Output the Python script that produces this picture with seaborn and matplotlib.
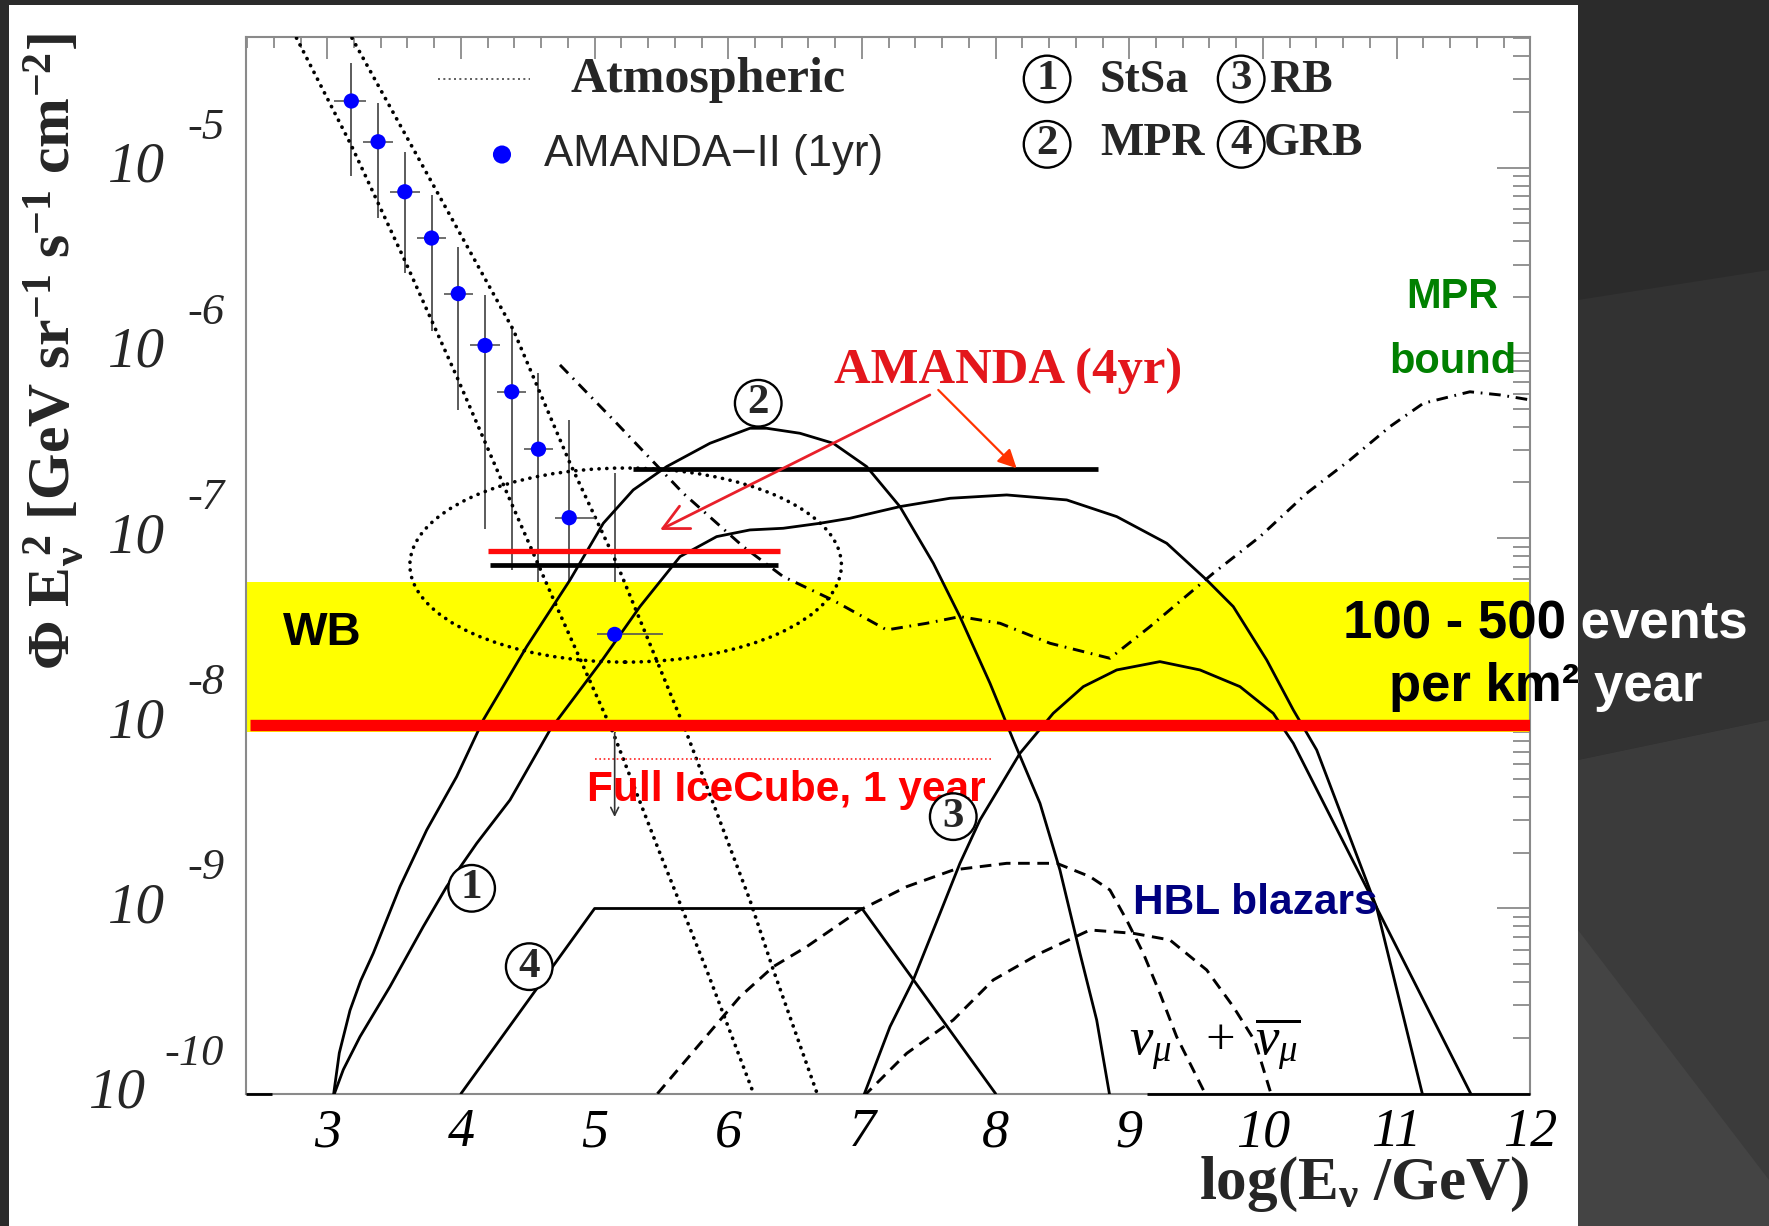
import numpy as np
import matplotlib
matplotlib.use("Agg")
import matplotlib.pyplot as plt
import matplotlib.transforms as mtransforms
from matplotlib.patches import Rectangle, Ellipse, Polygon
from matplotlib.ticker import FixedLocator, MultipleLocator, LogLocator, NullFormatter
import seaborn as sns

# x = log10(E/GeV), ly = log10(E^2 Phi [GeV sr-1 s-1 cm-2])
amanda_x = [3.18, 3.38, 3.58, 3.78, 3.98, 4.18, 4.38, 4.58, 4.81, 5.15]
amanda_ly = [-4.64, -4.86, -5.13, -5.38, -5.68, -5.96, -6.21, -6.52, -6.89, -7.52]
amanda_ly_hi = [-4.435, -4.652, -4.917, -5.148, -5.427, -5.686, -5.871, -6.108, -6.363, -6.65]
amanda_ly_lo = [-5.045, -5.272, -5.566, -5.882, -6.306, -6.952, -7.172, -7.6, -7.6, -8.05]
amanda_x_lo = [3.05, 3.27, 3.47, 3.67, 3.87, 4.07, 4.27, 4.47, 4.70, 5.02]
amanda_x_hi = [3.29, 3.49, 3.69, 3.89, 4.09, 4.29, 4.49, 4.69, 5.00, 5.51]
limit_arrow = (5.15, -8.053, -8.506)

atm_lo_x = [2.77, 3.18, 3.578, 3.976, 4.359, 4.716, 5.14, 5.489, 5.838, 6.185]
atm_lo_ly = [-4.30, -4.88, -5.498, -6.14, -6.781, -7.37, -8.054, -8.702, -9.332, -9.991]
atm_hi_x = [3.185, 4.392, 4.816, 5.165, 5.689, 6.162, 6.337, 6.673]
atm_hi_ly = [-4.30, -5.876, -6.596, -7.136, -8.054, -8.955, -9.332, -10.016]

mprb_x = [4.741, 5.165, 5.663, 6.112, 6.411, 6.785, 7.185, 7.484, 7.733, 8.033, 8.407,
          8.855, 9.155, 9.628, 9.978, 10.327, 10.651, 10.95, 11.2, 11.548, 11.773, 12.0]
mprb_ly = [-6.065, -6.38, -6.758, -7.046, -7.208, -7.336, -7.496, -7.46, -7.424, -7.46, -7.568,
           -7.649, -7.478, -7.19, -6.992, -6.758, -6.578, -6.398, -6.272, -6.21, -6.227, -6.254]

mpr_x = [3.045, 3.09, 3.17, 3.25, 3.344, 3.544, 3.744, 3.968, 4.167, 4.492, 4.816, 5.065,
         5.289, 5.539, 5.863, 6.162, 6.287, 6.536, 6.785, 7.035, 7.284, 7.534, 7.733, 7.958,
         8.132, 8.332, 8.481, 8.631, 8.756, 8.855]
mpr_ly = [-10.016, -9.78, -9.55, -9.39, -9.242, -8.882, -8.576, -8.288, -7.982, -7.586, -7.226,
          -6.92, -6.74, -6.614, -6.488, -6.407, -6.407, -6.434, -6.488, -6.614, -6.83, -7.136,
          -7.424, -7.784, -8.09, -8.432, -8.792, -9.242, -9.602, -10.016]

stsa_x = [3.045, 3.12, 3.245, 3.469, 3.718, 3.893, 4.118, 4.367, 4.666, 5.04, 5.339, 5.639,
          5.913, 6.162, 6.411, 6.686, 6.91, 7.284, 7.659, 8.083, 8.532, 8.906, 9.28, 9.579,
          9.778, 10.028, 10.227, 10.402, 10.851, 11.203]
stsa_ly = [-10.016, -9.87, -9.692, -9.422, -9.098, -8.882, -8.648, -8.414, -8.036, -7.676,
           -7.37, -7.1, -6.992, -6.956, -6.947, -6.92, -6.893, -6.83, -6.785, -6.767, -6.794,
           -6.884, -7.028, -7.226, -7.37, -7.658, -7.928, -8.144, -8.996, -10.032]

rb_x = [7.01, 7.21, 7.384, 7.584, 7.733, 7.883, 8.182, 8.431, 8.656, 8.906, 9.229, 9.529,
        9.828, 10.077, 10.227, 10.851, 11.577]
rb_ly = [-10.016, -9.638, -9.386, -9.026, -8.756, -8.522, -8.162, -7.946, -7.802, -7.712,
         -7.667, -7.712, -7.802, -7.946, -8.108, -8.996, -10.032]

grb_x = [4.0, 5.0, 7.0, 8.0]
grb_ly = [-10.0, -9.0, -9.0, -10.0]

hbl1_x = [5.47, 6.088, 6.337, 6.587, 6.986, 7.335, 7.683, 8.083, 8.457, 8.706, 8.855, 8.98,
          9.105, 9.229, 9.354, 9.479, 9.579]
hbl1_ly = [-10.0, -9.476, -9.314, -9.206, -9.008, -8.882, -8.792, -8.756, -8.756, -8.828,
           -8.9, -9.062, -9.242, -9.458, -9.692, -9.872, -10.016]
hbl2_x = [7.01, 7.335, 7.683, 7.982, 8.332, 8.706, 9.03, 9.304, 9.579, 9.778, 9.939, 10.063]
hbl2_ly = [-10.016, -9.782, -9.602, -9.386, -9.242, -9.116, -9.134, -9.17, -9.332, -9.53,
           -9.715, -10.007]

# horizontal limits: (x start, x end, ly)
amanda4_top = (5.289, 8.768, -6.627)
amanda4_red = (4.204, 6.387, -7.07)
amanda4_low = (4.217, 6.374, -7.145)
icecube_line = (2.42, 12.0, -8.009)
icecube_dotted = (5.003, 7.983, -8.193)
wb_band = (-8.045, -7.239)
bottom_segments = [(2.392, 2.59), (9.13, 12.0)]

x_ticks = [3, 4, 5, 6, 7, 8, 9, 10, 11, 12]
y_exponents = [-10, -9, -8, -7, -6, -5]

W, H = 1769, 1226
sns.set_theme(style="white")
plt.rcParams["font.family"] = ["Liberation Serif", "DejaVu Serif"]
plt.rcParams["mathtext.fontset"] = "custom"
plt.rcParams["mathtext.rm"] = "Liberation Serif"
plt.rcParams["mathtext.it"] = "Liberation Serif:italic"
plt.rcParams["mathtext.bf"] = "Liberation Serif:bold"

fig = plt.figure(figsize=(W / 100, H / 100), dpi=100, facecolor="#2b2b2b")

def fpx(pts):
    return [(x / W, 1 - y / H) for x, y in pts]

# slide background facets
for pts, col in [
    ([(1578, 300), (1769, 270), (1769, 720), (1578, 760)], "#323232"),
    ([(1578, 760), (1769, 720), (1769, 1226), (1578, 1226)], "#3b3b3b"),
    ([(1578, 930), (1769, 1180), (1769, 1226), (1578, 1226)], "#444444"),
]:
    fig.add_artist(Polygon(fpx(pts), closed=True, transform=fig.transFigure,
                           fc=col, ec="none", zorder=-3))
panel = Rectangle((9 / W, 0), (1578 - 9) / W, (H - 5) / H, transform=fig.transFigure,
                  fc="white", ec="none", zorder=-1)
fig.add_artist(panel)

ax = fig.add_axes([246 / W, 1 - 1093.7 / H, 1284.3 / W, 1056.4 / H])
ax.set_facecolor("white")
ax.set_yscale("log")
ax.set_xlim(2.392, 12.0)
ax.set_ylim(1e-10, 10 ** -4.296)

def curve(xs, lys, **kw):
    sns.lineplot(x=np.asarray(xs, float), y=10.0 ** np.asarray(lys), ax=ax, sort=False,
                 estimator=None, **kw)

# AMANDA-II vertical error bars (under the band)
y_am = 10.0 ** np.array(amanda_ly)
ax.errorbar(amanda_x, y_am, yerr=[y_am - 10.0 ** np.array(amanda_ly_lo),
                                  10.0 ** np.array(amanda_ly_hi) - y_am],
            fmt="none", ecolor="#404040", elinewidth=1.2, zorder=1)

ax.axhspan(10 ** wb_band[0], 10 ** wb_band[1], color="#ffff00", lw=0, zorder=2)

dots = dict(linestyle=(0, (0.05, 2.0)), dash_capstyle="round", lw=2.7, color="black")
curve(atm_lo_x, atm_lo_ly, zorder=3, **dots)
curve(atm_hi_x, atm_hi_ly, zorder=3, **dots)

curve(mprb_x, mprb_ly, color="black", lw=2.1, linestyle=(0, (4.0, 2.3, 0.6, 2.3)), zorder=4)
for xs, lys in [(mpr_x, mpr_ly), (stsa_x, stsa_ly), (rb_x, rb_ly), (grb_x, grb_ly)]:
    curve(xs, lys, color="black", lw=2.0, zorder=4)
for xs, lys in [(hbl1_x, hbl1_ly), (hbl2_x, hbl2_ly)]:
    curve(xs, lys, color="black", lw=2.1, linestyle=(0, (4.0, 2.6)), zorder=4)

ax.hlines(10 ** amanda4_top[2], amanda4_top[0], amanda4_top[1], color="black", lw=3.4, zorder=5)
ax.hlines(10 ** amanda4_red[2], amanda4_red[0], amanda4_red[1], color="#ff0a0a", lw=3.8, zorder=5)
ax.hlines(10 ** amanda4_low[2], amanda4_low[0], amanda4_low[1], color="black", lw=3.4, zorder=5)
ax.hlines(10 ** icecube_line[2], icecube_line[0], icecube_line[1], color="#ff0000", lw=8.2, zorder=6)
ax.hlines(10 ** icecube_dotted[2], icecube_dotted[0], icecube_dotted[1], color="#ff2020",
          lw=1.2, linestyle=(0, (1, 1.6)), zorder=6)
for x0, x1 in bottom_segments:
    ax.hlines(1e-10, x0, x1, color="black", lw=2.0, zorder=6, clip_on=False)

ax.add_patch(Ellipse((0.2956, 0.5004), 0.336, 0.1837, transform=ax.transAxes, fill=False,
                     ec="black", lw=2.6, linestyle=(0, (0.05, 2.1)), capstyle="round", zorder=6))

# AMANDA-II points with horizontal bars
ax.errorbar(amanda_x, y_am, xerr=[np.array(amanda_x) - np.array(amanda_x_lo),
                                  np.array(amanda_x_hi) - np.array(amanda_x)],
            fmt="none", ecolor="#555555", elinewidth=1.2, zorder=7)
sns.scatterplot(x=amanda_x, y=y_am, ax=ax, color="#0000ff", s=120, edgecolor="none", zorder=8)
ax.annotate("", xy=(limit_arrow[0], 10 ** limit_arrow[2]), xytext=(limit_arrow[0], 10 ** limit_arrow[1]),
            arrowprops=dict(arrowstyle="->", color="#333333", lw=1.2, shrinkA=0, shrinkB=0,
                            mutation_scale=14), zorder=8)

# AMANDA (4yr) annotation
ax.annotate("", xy=(5.489, 10 ** -6.956), xytext=(7.508, 10 ** -6.227),
            arrowprops=dict(arrowstyle="->", color="#e8202a", lw=2.0, shrinkA=0, shrinkB=0,
                            mutation_scale=45), zorder=9)
ax.annotate("", xy=(8.157, 10 ** -6.623), xytext=(7.571, 10 ** -6.2),
            arrowprops=dict(arrowstyle="-|>", color="#ff3300", lw=1.6, shrinkA=0, shrinkB=0,
                            mutation_scale=28), zorder=9)
ax.text(8.096, 10 ** -6.163, "AMANDA (4yr)", color="#e3161c", fontsize=36.5, fontweight="bold",
        ha="center", va="baseline", zorder=10)

sans = ["Liberation Sans", "DejaVu Sans"]
ax.text(4.941, 10 ** -8.418, "Full IceCube, 1 year", color="#ff0000", fontsize=30.5,
        fontweight="bold", family=sans, ha="left", va="baseline", zorder=10)
ax.text(2.669, 10 ** -7.578, "WB", color="black", fontsize=34, fontweight="bold", family=sans,
        ha="left", va="baseline", zorder=10)
ax.text(9.026, 10 ** -9.03, "HBL blazars", color="#000080", fontsize=30.5, fontweight="bold",
        family=sans, ha="left", va="baseline", zorder=10)
ax.text(11.418, 10 ** -5.759, "MPR", color="#008000", fontsize=30, fontweight="bold",
        family=sans, ha="center", va="baseline", zorder=10)
ax.text(11.418, 10 ** -6.108, "bound", color="#008000", fontsize=30, fontweight="bold",
        family=sans, ha="center", va="baseline", zorder=10)
ax.text(9.0, 10 ** -9.792, r"$\nu_{\mu}\ \ +\ \overline{\nu_{\mu}}$", color="black",
        fontsize=38, ha="left", va="baseline", zorder=10)

def circled(x, ly, s):
    ax.text(x, 10 ** ly, s, fontsize=31, fontweight="bold", ha="center", va="center", zorder=10,
            bbox=dict(boxstyle="circle,pad=0.1", fc="white", ec="black", lw=1.7))

for (x, ly), s in zip([(6.224, -6.272), (4.08, -8.891), (4.511, -9.314), (7.683, -8.504)],
                      ["2", "1", "4", "3"]):
    circled(x, ly, s)

# legend
curve([3.826, 4.516], [-4.521, -4.521], color="#444444", lw=1.2, linestyle=(0, (1.2, 2.0)), zorder=10)
ax.text(4.816, 10 ** -4.591, "Atmospheric", fontsize=36, fontweight="bold", ha="left",
        va="baseline", zorder=10)
sns.scatterplot(x=[4.307], y=[10 ** -4.929], ax=ax, color="#0000ff", s=170, edgecolor="none", zorder=10)
ax.text(4.621, 10 ** -4.929, "AMANDA\u2212II (1yr)", fontsize=31.5, family=sans, ha="left",
        va="center", zorder=10)
for (x, ly), s in zip([(8.385, -4.521), (9.837, -4.521), (8.385, -4.874), (9.837, -4.874)],
                      ["1", "3", "2", "4"]):
    circled(x, ly, s)
for (x, ly), s in zip([(8.781, -4.532), (10.045, -4.532), (8.781, -4.872), (10.008, -4.872)],
                      ["StSa", "RB", "MPR", "GRB"]):
    ax.text(x, 10 ** ly, s, fontsize=33, fontweight="bold", ha="left", va="center", zorder=10)

# axes styling (ROOT-like)
ax.grid(False)
for sp in ax.spines.values():
    sp.set_color("#8a8a8a")
    sp.set_linewidth(1.5)
ax.xaxis.set_major_locator(FixedLocator(x_ticks))
ax.xaxis.set_minor_locator(MultipleLocator(0.2))
ax.set_xticklabels([str(t) for t in x_ticks], fontsize=39, style="italic")
ax.yaxis.set_major_locator(LogLocator(base=10, numticks=20))
ax.yaxis.set_minor_locator(LogLocator(base=10, subs=np.arange(2, 10), numticks=20))
ax.yaxis.set_major_formatter(NullFormatter())
ax.yaxis.set_minor_formatter(NullFormatter())
ax.tick_params(which="both", direction="in", top=True, right=True, colors="#8a8a8a", width=1.3)
ax.tick_params(axis="x", which="major", length=15.6, pad=10, labelcolor="black")
ax.tick_params(axis="x", which="minor", length=7.7)
ax.tick_params(axis="y", which="major", length=23.8)
ax.tick_params(axis="y", which="minor", length=12)

trans = mtransforms.blended_transform_factory(fig.transFigure, ax.transData)
up = mtransforms.ScaledTranslation(0, 0.40, fig.dpi_scale_trans)
for e in y_exponents:
    lab = str(e)
    ax.text(224 / W, 10.0 ** e, lab, transform=trans + up, fontsize=32, style="italic",
            ha="right", va="center", clip_on=False)
    ax.text((146 if len(lab) > 2 else 165) / W, 10.0 ** e, "10", transform=trans, fontsize=41,
            style="italic", ha="right", va="center", clip_on=False)

fig.text(54 / W, 1 - 352 / H,
         r"$\mathbf{\Phi\ E_{\nu}^{\ 2}\ [GeV\ sr^{-1}\ s^{-1}\ cm^{-2}]}$",
         rotation=90, ha="center", va="center", fontsize=43)
fig.text(1529 / W, 1 - 1199 / H, r"$\mathbf{log(E_{\nu}\ /GeV)}$", ha="right",
         va="baseline", fontsize=44)

# slide overlay text: white, turning black where it lies on the white chart panel
clip = mtransforms.TransformedBbox(mtransforms.Bbox([[9 / W, 0], [1578 / W, 1 - 5 / H]]),
                                   fig.transFigure)
for s, yb in [("100 - 500 events", 638.4), ("per km\u00b2 year", 701)]:
    fig.text(1545.6 / W, 1 - yb / H, s, color="white", fontsize=38, fontweight="bold",
             family=sans, ha="center", va="baseline", zorder=5)
    t = fig.text(1545.6 / W, 1 - yb / H, s, color="black", fontsize=38, fontweight="bold",
                 family=sans, ha="center", va="baseline", zorder=6)
    t.set_clip_box(clip)
    t.set_clip_on(True)

fig.savefig("out.png", dpi=100, facecolor=fig.get_facecolor())
